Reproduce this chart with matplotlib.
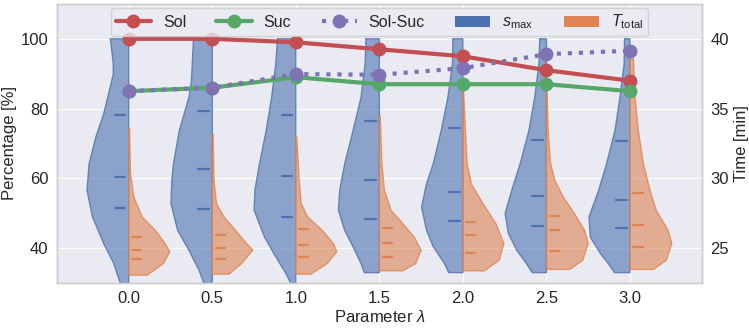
import matplotlib
matplotlib.use("Agg")
import matplotlib.pyplot as plt
import seaborn as sns
from matplotlib.lines import Line2D
from matplotlib.patches import Patch

# ---- data ----
lambdas = ["0.0", "0.5", "1.0", "1.5", "2.0", "2.5", "3.0"]
sol = [100, 100, 99, 97, 95, 91, 88]
suc = [85, 86, 89, 87, 87, 87, 85]
sol_suc = [85.0, 86.0, 89.9, 89.7, 91.6, 95.6, 96.6]

# s_max violins (left axis, %): levels and relative half widths
smax_levels = [
    [100, 92.8, 89.9, 78.5, 71.8, 64.2, 56.6, 49.0, 41.3, 35.6, 29.9],
    [100, 88.0, 83.2, 73.7, 64.2, 59.4, 52.8, 45.1, 39.4, 33.7, 29.9],
    [100, 92.8, 83.2, 73.7, 64.2, 56.6, 50.9, 43.2, 37.5, 32.8, 29.9],
    [100, 92.8, 83.2, 73.7, 64.2, 56.6, 50.9, 45.1, 40.4, 35.6, 33.0],
    [100, 92.8, 83.2, 73.7, 64.2, 58.5, 51.8, 45.1, 40.4, 35.6, 33.0],
    [100, 92.8, 83.2, 73.7, 64.2, 56.6, 49.9, 44.2, 39.4, 35.6, 33.0],
    [100, 92.8, 83.2, 73.7, 64.2, 56.6, 49.0, 43.2, 38.5, 35.6, 33.0],
]
smax_widths = [
    [0.44, 0.37, 0.37, 0.60, 0.79, 0.95, 1.00, 0.87, 0.60, 0.36, 0.20],
    [0.45, 0.50, 0.56, 0.79, 0.93, 0.97, 0.99, 0.83, 0.56, 0.32, 0.20],
    [0.44, 0.48, 0.58, 0.71, 0.87, 0.98, 1.00, 0.75, 0.48, 0.24, 0.12],
    [0.32, 0.34, 0.44, 0.63, 0.83, 0.95, 0.98, 0.83, 0.63, 0.44, 0.36],
    [0.24, 0.25, 0.36, 0.52, 0.71, 0.87, 0.99, 0.87, 0.71, 0.44, 0.34],
    [0.16, 0.18, 0.28, 0.42, 0.63, 0.83, 0.99, 0.91, 0.71, 0.48, 0.34],
    [0.13, 0.14, 0.24, 0.36, 0.56, 0.75, 0.98, 0.95, 0.71, 0.52, 0.37],
]
smax_quartiles = [
    [78.1, 60.3, 51.5], [79.2, 62.8, 51.1], [78.3, 60.6, 48.8],
    [76.4, 59.4, 48.3], [74.3, 56.0, 47.7], [70.9, 55.0, 46.4],
    [70.7, 53.9, 45.9],
]

# T_total violins (right axis, min)
ttot_levels = [
    [33.55, 30.33, 28.67, 27.24, 26.29, 25.33, 24.74, 23.90, 23.07],
    [33.14, 29.86, 28.19, 27.24, 26.29, 25.33, 24.86, 23.90, 23.14],
    [32.95, 29.86, 28.19, 27.24, 26.29, 25.33, 24.74, 23.90, 23.14],
    [34.50, 31.05, 29.14, 27.71, 26.76, 25.81, 24.86, 23.90, 23.38],
    [36.64, 33.43, 31.05, 29.62, 28.19, 26.76, 25.33, 24.14, 23.38],
    [36.76, 33.43, 31.05, 29.86, 28.67, 27.48, 26.29, 25.33, 24.14, 23.48],
    [38.55, 35.81, 33.43, 31.05, 29.14, 27.71, 26.29, 25.33, 24.14, 23.48],
]
ttot_widths = [
    [0.02, 0.04, 0.12, 0.32, 0.63, 0.87, 0.98, 0.83, 0.44],
    [0.02, 0.04, 0.10, 0.28, 0.55, 0.82, 0.97, 0.70, 0.40],
    [0.02, 0.08, 0.13, 0.28, 0.63, 0.90, 0.98, 0.75, 0.36],
    [0.02, 0.06, 0.12, 0.28, 0.56, 0.83, 1.00, 0.87, 0.56],
    [0.01, 0.06, 0.10, 0.20, 0.48, 0.79, 0.98, 0.87, 0.52],
    [0.01, 0.04, 0.10, 0.20, 0.40, 0.67, 0.91, 1.00, 0.87, 0.56],
    [0.08, 0.12, 0.20, 0.32, 0.48, 0.63, 0.91, 1.00, 0.87, 0.56],
]
ttot_quartiles = [
    [25.81, 24.86, 24.21], [25.93, 24.98, 24.26], [26.40, 25.21, 24.38],
    [26.48, 25.38, 24.38], [26.88, 25.93, 24.62], [27.29, 26.33, 24.79],
    [28.93, 26.64, 25.05],
]

# ---- style ----
sns.set_style("darkgrid")
plt.rcParams["font.family"] = ["Liberation Sans", "DejaVu Sans"]
plt.rcParams["mathtext.fontset"] = "custom"
plt.rcParams["mathtext.rm"] = "Liberation Sans"
plt.rcParams["mathtext.it"] = "Liberation Sans:italic"

blue, orange = "#4C72B0", "#DD8452"
red, green, purple = "#C44E52", "#55A868", "#8172B3"

fig = plt.figure(figsize=(7.49, 3.28), dpi=100)
ax = fig.add_axes([0.076, 0.137, 0.861, 0.851])
ax2 = ax.twinx()

hw = 0.5  # max half width in category units
for i in range(len(lambdas)):
    # left half: s_max
    xs = [i - w * hw for w in smax_widths[i]]
    ax.fill_betweenx(smax_levels[i], xs, i, facecolor=blue, alpha=0.6,
                     edgecolor="none", zorder=2)
    ax.plot(xs + [i, i, xs[0]],
            smax_levels[i] + [smax_levels[i][-1], smax_levels[i][0], smax_levels[i][0]],
            color=blue, lw=1, alpha=0.8, zorder=2)
    for q in smax_quartiles[i]:
        ax.plot([i - 0.17, i - 0.04], [q, q], color=blue, lw=1.6, zorder=3)
    # right half: T_total
    xs = [i + w * hw for w in ttot_widths[i]]
    ax2.fill_betweenx(ttot_levels[i], i, xs, facecolor=orange, alpha=0.6,
                      edgecolor="none", zorder=2)
    ax2.plot(xs + [i, i, xs[0]],
             ttot_levels[i] + [ttot_levels[i][-1], ttot_levels[i][0], ttot_levels[i][0]],
             color=orange, lw=1, alpha=0.8, zorder=2)
    for q in ttot_quartiles[i]:
        ax2.plot([i + 0.04, i + 0.15], [q, q], color=orange, lw=1.6, zorder=3)

# lines go on top of everything (drawn in ax2, with left-axis coordinates)
x = list(range(len(lambdas)))
ax2.plot(x, sol, color=red, lw=3, marker="o", ms=9, zorder=5, transform=ax.transData)
ax2.plot(x, suc, color=green, lw=3, marker="o", ms=9, zorder=6, transform=ax.transData)
ax2.plot(x, sol_suc, color=purple, lw=3, ls=":", marker="o", ms=9, zorder=7,
         transform=ax.transData)

ax.set_xlim(-0.86, 6.86)
ax.set_ylim(30, 110)
ax2.set_ylim(22.5, 42.5)
ax.set_xticks(x)
ax.set_xticklabels(lambdas)
ax.set_yticks([40, 60, 80, 100])
ax2.set_yticks([25, 30, 35, 40])
ax2.grid(False)
ax.tick_params(labelsize=12, length=0, pad=6)
ax2.tick_params(labelsize=12, length=0, pad=6)
ax.set_xlabel(r"Parameter $\lambda$", fontsize=12, labelpad=2)
ax.set_ylabel("Percentage [%]", fontsize=12, labelpad=3)
ax2.set_ylabel("Time [min]", fontsize=12, labelpad=4)
for a in (ax, ax2):
    for s in a.spines.values():
        s.set_visible(True)
        s.set_color("#cccccc")
        s.set_linewidth(1)

handles = [
    Line2D([], [], color=red, lw=3, marker="o", ms=9),
    Line2D([], [], color=green, lw=3, marker="o", ms=9),
    Line2D([], [], color=purple, lw=3, ls=":", marker="o", ms=9),
    Patch(facecolor=blue, edgecolor="none"),
    Patch(facecolor=orange, edgecolor="none"),
]
labels = ["Sol", "Suc", "Sol-Suc", r"$s_{\mathrm{max}}$", r"$T_{\mathrm{total}}$"]
leg = ax2.legend(handles, labels, loc="upper center", ncol=5, fontsize=11.5,
                 frameon=True, borderaxespad=0.25, columnspacing=1.9,
                 handlelength=2.2, handletextpad=0.75, borderpad=0.3)
leg.set_zorder(10)
leg.get_frame().set_facecolor("#EAEAF2")
leg.get_frame().set_edgecolor("#cccccc")

fig.savefig("out.png", dpi=100)
